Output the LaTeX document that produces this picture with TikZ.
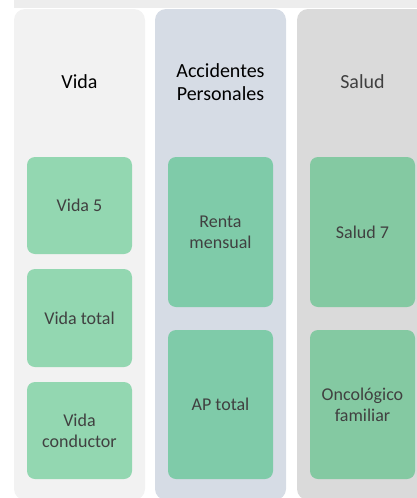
\documentclass[tikz,border=0pt]{standalone}
\usepackage{fontspec}
\setmainfont{Carlito}
\usepackage{tikz}
\usetikzlibrary{positioning}

\definecolor{bandgray}{HTML}{EDEDED}
\definecolor{vidabg}{HTML}{F2F2F2}
\definecolor{apbg}{HTML}{D6DCE5}
\definecolor{saludbg}{HTML}{DADADA}
\definecolor{vidagreen}{HTML}{93D7B1}
\definecolor{apgreen}{HTML}{7FCBA9}
\definecolor{saludgreen}{HTML}{84C9A2}
\definecolor{leaftext}{HTML}{404040}

\tikzstyle{column} = [draw=none, rounded corners=11pt, minimum width=131pt, minimum height=491pt, inner sep=0pt]
\tikzstyle{head} = [font=\fontsize{20}{23}\selectfont, align=center, text=black]
\tikzstyle{leaf} = [draw=none, rounded corners=8pt, minimum width=105pt, align=center, text=leaftext, font=\fontsize{18}{21}\selectfont, inner sep=0pt]

\begin{document}
\begin{tikzpicture}[x=1pt,y=-1pt]
	\useasboundingbox (0,0) rectangle (417,498);
	\clip (0,0) rectangle (417,498);
	
	% ------------------- Background band and columns ------------------- %
	\fill[bandgray] (14,-5) rectangle (430,8);
	\node[column, fill=vidabg] (colvida) at (79.5,254.5) {};
	\node[column, fill=apbg] (colap) at (220.5,254.5) {};
	\node[column, fill=saludbg] (colsalud) at (362.5,254.5) {};
	
	% ------------------- Headers ------------------- %
	\node[head] (vida) at (79.5,82) {Vida};
	\node[head] (ap) at (220.5,82) {Accidentes\\Personales};
	\node[head, text=leaftext] (salud) at (362.5,82) {Salud};
	
	% ------------------- Vida ------------------- %
	\node[leaf, fill=vidagreen, minimum height=97pt] (vida5) at (79.5,205.5) {Vida 5};
	\node[leaf, fill=vidagreen, minimum height=98pt] (vidatotal) at (79.5,318) {Vida total};
	\node[leaf, fill=vidagreen, minimum height=97pt] (vidaconductor) at (79.5,430.5) {Vida\\conductor};
	
	% ------------------- Accidentes Personales ------------------- %
	\node[leaf, fill=apgreen, minimum height=150pt] (renta) at (220.5,232) {Renta\\mensual};
	\node[leaf, fill=apgreen, minimum height=149pt] (aptotal) at (220.5,404.5) {AP total};
	
	% ------------------- Salud ------------------- %
	\node[leaf, fill=saludgreen, minimum height=150pt] (salud7) at (362.5,232) {Salud 7};
	\node[leaf, fill=saludgreen, minimum height=149pt] (oncologico) at (362.5,404.5) {Oncológico\\familiar};
	
\end{tikzpicture}
\end{document}
